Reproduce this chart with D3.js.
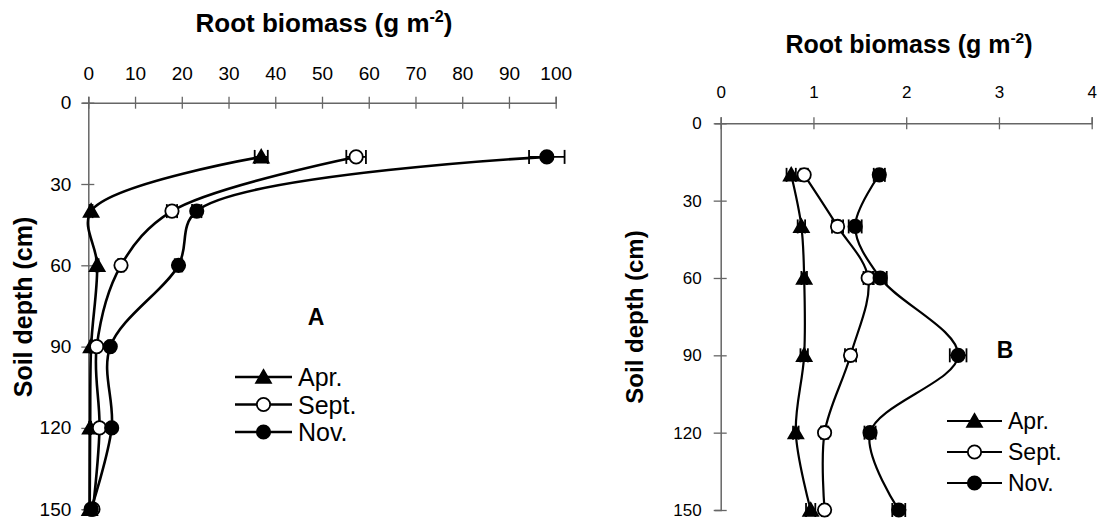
<!DOCTYPE html>
<meta charset="utf-8">
<style>
  body { margin: 0; background: #fff; }
  svg { display: block; font-family: "Liberation Sans", Arial, sans-serif; }
</style>
<body>
<div id="chart"></div>
<script src="https://cdn.jsdelivr.net/npm/d3@7"></script>
<script>
  // depths (cm) shared by both panels
  const depths = [20, 40, 60, 90, 120, 150];
  const months = ['Apr.', 'Sept.', 'Nov.'];
  const depthTicks = [0, 30, 60, 90, 120, 150];

  // panel A: root biomass (g m-2)
  const aTicks = [0, 10, 20, 30, 40, 50, 60, 70, 80, 90, 100];
  const aApr = [37.0, 0.6, 1.9, 0.6, 0.4, 0.3];
  const aSept = [57.3, 17.9, 7.0, 1.8, 2.4, 1.0];
  const aNov = [98.1, 23.2, 19.3, 4.7, 5.0, 0.6];
  const aAprErr = [1.4, 0.3, 0.3, 0.2, 0.2, 0.1];
  const aSeptErr = [2.1, 1.1, 0.6, 0.3, 0.3, 0.2];
  const aNovErr = [3.8, 1.0, 0.8, 0.4, 0.4, 0.2];

  // panel B
  const bTicks = [0, 1, 2, 3, 4];
  const bApr = [0.76, 0.87, 0.90, 0.90, 0.81, 0.97];
  const bSept = [0.90, 1.26, 1.59, 1.40, 1.12, 1.12];
  const bNov = [1.71, 1.45, 1.72, 2.56, 1.61, 1.92];
  const bAprErr = [0.05, 0.04, 0.03, 0.04, 0.03, 0.05];
  const bSeptErr = [0.04, 0.06, 0.05, 0.06, 0.04, 0.03];
  const bNovErr = [0.06, 0.07, 0.07, 0.09, 0.06, 0.07];

  const svg = d3.select('#chart').append('svg')
      .attr('width', 1099)
      .attr('height', 523);

  const axisColor = '#666';

  function panel(cfg) {
    const x = d3.scaleLinear().domain(cfg.xDomain).range(cfg.xRange);
    const y = d3.scaleLinear().domain([0, 150]).range(cfg.yRange);
    const g = svg.append('g');

    // top axis
    const gx = g.append('g')
        .attr('transform', `translate(0,${cfg.yRange[0]})`)
        .call(d3.axisTop(x).tickValues(cfg.xTicks).tickFormat(d3.format('d'))
            .tickSizeOuter(0).tickSize(6));
    gx.select('.domain').attr('stroke', axisColor).attr('stroke-width', 1.5);
    gx.selectAll('.tick line').attr('y1', -6).attr('y2', 6)
        .attr('stroke', axisColor).attr('stroke-width', 1.3);
    gx.selectAll('.tick text')
        .attr('y', -cfg.xLabelGap).attr('dy', 0)
        .attr('font-size', cfg.tickFont).attr('fill', '#000')
        .attr('font-family', '"Liberation Sans", Arial, sans-serif');

    // left axis
    const gy = g.append('g')
        .attr('transform', `translate(${cfg.xRange[0]},0)`)
        .call(d3.axisLeft(y).tickValues(depthTicks).tickSizeOuter(0).tickSize(6));
    gy.select('.domain').attr('stroke', axisColor).attr('stroke-width', 1.5);
    gy.selectAll('.tick line').attr('x1', -7).attr('x2', 6)
        .attr('stroke', axisColor).attr('stroke-width', 1.3);
    gy.selectAll('.tick text')
        .attr('x', -cfg.yLabelGap)
        .attr('font-size', cfg.tickFont).attr('fill', '#000')
        .attr('font-family', '"Liberation Sans", Arial, sans-serif');

    // axis titles
    const t = g.append('text')
        .attr('x', cfg.titleX).attr('y', cfg.titleY)
        .attr('text-anchor', 'middle')
        .attr('font-size', cfg.titleFont).attr('font-weight', 'bold');
    t.append('tspan').text('Root biomass (g m');
    t.append('tspan').attr('dy', -10).attr('font-size', cfg.titleFont * 0.62).text('-2');
    t.append('tspan').attr('dy', 10).text(')');

    g.append('text')
        .attr('transform', `translate(${cfg.yTitleX},${cfg.yTitleY}) rotate(-90)`)
        .attr('text-anchor', 'middle')
        .attr('font-size', cfg.yTitleFont).attr('font-weight', 'bold')
        .text('Soil depth (cm)');

    g.append('text')
        .attr('x', cfg.letterX).attr('y', cfg.letterY)
        .attr('text-anchor', 'middle')
        .attr('font-size', 23).attr('font-weight', 'bold')
        .text(cfg.letter);

    const line = d3.line()
        .x(d => x(d.v))
        .y(d => y(d.d))
        .curve(d3.curveCatmullRom.alpha(0.5));

    const tri = d3.symbol().type(d3.symbolTriangle).size(95);
    const circ = d3.symbol().type(d3.symbolCircle).size(140);

    cfg.series.forEach((s, i) => {
      const pts = depths.map((d, j) => ({ d: d, v: s.values[j], e: s.err[j] }));
      const sg = g.append('g');
      sg.append('path')
          .attr('d', line(pts))
          .attr('fill', 'none')
          .attr('stroke', '#000')
          .attr('stroke-width', cfg.lineWidth);

      // error bars
      const eb = sg.selectAll('.eb').data(pts).enter().append('g');
      eb.append('line')
          .attr('x1', d => x(d.v - d.e)).attr('x2', d => x(d.v + d.e))
          .attr('y1', d => y(d.d)).attr('y2', d => y(d.d))
          .attr('stroke', '#000').attr('stroke-width', 1.8);
      [-1, 1].forEach(sgn => {
        eb.append('line')
            .attr('x1', d => x(d.v + sgn * d.e)).attr('x2', d => x(d.v + sgn * d.e))
            .attr('y1', d => y(d.d) - 7).attr('y2', d => y(d.d) + 7)
            .attr('stroke', '#000').attr('stroke-width', 1.8);
      });

      sg.selectAll('.mk').data(pts).enter().append('path')
          .attr('transform', d => `translate(${x(d.v)},${y(d.d) + (i === 0 ? 1.5 : 0)})`)
          .attr('d', i === 0 ? tri() : circ())
          .attr('fill', i === 1 ? '#fff' : '#000')
          .attr('stroke', '#000')
          .attr('stroke-width', 1.8);

      // legend
      const ly = cfg.legendY + i * cfg.legendStep;
      const lg = g.append('g');
      lg.append('line')
          .attr('x1', cfg.legendX).attr('x2', cfg.legendX + cfg.legendLen)
          .attr('y1', ly).attr('y2', ly)
          .attr('stroke', '#000').attr('stroke-width', cfg.lineWidth);
      lg.append('path')
          .attr('transform', `translate(${cfg.legendX + cfg.legendLen / 2},${ly + (i === 0 ? 1.5 : 0)})`)
          .attr('d', i === 0 ? tri() : circ())
          .attr('fill', i === 1 ? '#fff' : '#000')
          .attr('stroke', '#000').attr('stroke-width', 1.8);
      lg.append('text')
          .attr('x', cfg.legendX + cfg.legendLen + 6)
          .attr('y', ly)
          .attr('dy', '0.36em')
          .attr('font-size', cfg.legendFont)
          .text(months[i]);
    });
  }

  panel({
    xDomain: [0, 100], xRange: [88.3, 555.7], yRange: [102.7, 509.2],
    xTicks: aTicks, tickFont: 19, xLabelGap: 23, yLabelGap: 17,
    titleX: 324, titleY: 32, titleFont: 26,
    yTitleX: 32, yTitleY: 307, yTitleFont: 25,
    letter: 'A', letterX: 316, letterY: 325,
    lineWidth: 2.6,
    legendX: 235, legendLen: 57, legendY: 377, legendStep: 27.5, legendFont: 25,
    series: [
      { values: aApr, err: aAprErr },
      { values: aSept, err: aSeptErr },
      { values: aNov, err: aNovErr }
    ]
  });

  panel({
    xDomain: [0, 4], xRange: [720.7, 1091.7], yRange: [123.3, 510],
    xTicks: bTicks, tickFont: 17, xLabelGap: 25, yLabelGap: 19,
    titleX: 909, titleY: 53, titleFont: 25,
    yTitleX: 643, yTitleY: 317, yTitleFont: 24,
    letter: 'B', letterX: 1005, letterY: 358,
    lineWidth: 2.2,
    legendX: 947, legendLen: 55, legendY: 421, legendStep: 31, legendFont: 23,
    series: [
      { values: bApr, err: bAprErr },
      { values: bSept, err: bSeptErr },
      { values: bNov, err: bNovErr }
    ]
  });
</script>
